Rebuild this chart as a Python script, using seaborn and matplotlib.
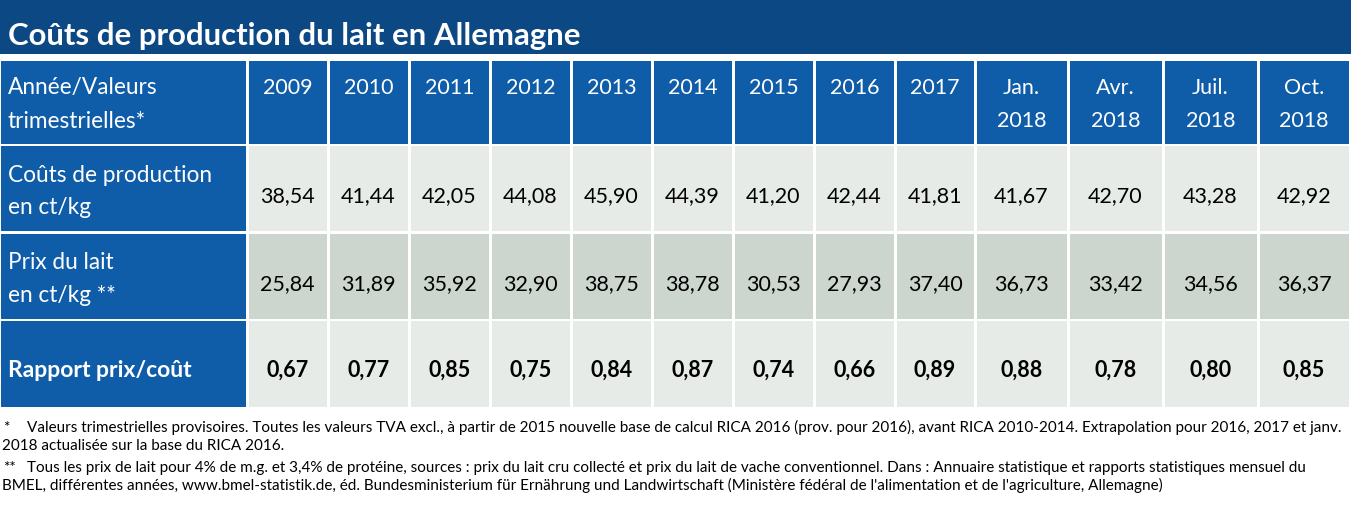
import numpy as np
import pandas as pd
import seaborn as sns
import matplotlib.pyplot as plt
from matplotlib.patches import Rectangle

sns.set_theme(style="white")
plt.rcParams['font.family'] = ['Lato', 'DejaVu Sans']

# données du tableau
titre = "Coûts de production du lait en Allemagne"
colonnes = ["2009", "2010", "2011", "2012", "2013", "2014", "2015", "2016", "2017",
            "Jan.\n2018", "Avr.\n2018", "Juil.\n2018", "Oct.\n2018"]
couts = [38.54, 41.44, 42.05, 44.08, 45.90, 44.39, 41.20, 42.44, 41.81, 41.67, 42.70, 43.28, 42.92]
prix = [25.84, 31.89, 35.92, 32.90, 38.75, 38.78, 30.53, 27.93, 37.40, 36.73, 33.42, 34.56, 36.37]
rapport = [0.67, 0.77, 0.85, 0.75, 0.84, 0.87, 0.74, 0.66, 0.89, 0.88, 0.78, 0.80, 0.85]
notes = [
    ("*", "Valeurs trimestrielles provisoires. Toutes les valeurs TVA excl., à partir de 2015 nouvelle base de calcul RICA 2016 (prov. pour 2016), avant RICA 2010-2014. Extrapolation pour 2016, 2017 et janv.",
     "2018 actualisée sur la base du RICA 2016."),
    ("**", "Tous les prix de lait pour 4% de m.g. et 3,4% de protéine, sources : prix du lait cru collecté et prix du lait de vache conventionnel. Dans : Annuaire statistique et rapports statistiques mensuel du",
     "BMEL, différentes années, www.bmel-statistik.de, éd. Bundesministerium für Ernährung und Landwirtschaft (Ministère fédéral de l'alimentation et de l'agriculture, Allemagne)"),
]

df = pd.DataFrame({"couts": couts, "prix": prix, "rapport": rapport}, index=colonnes)

# mise en page (pixels)
bords_x = [1, 247, 328, 409, 490, 571, 652, 733, 814, 895, 975, 1068, 1163, 1258, 1350]
bords_y = [(62, 145), (147, 232), (235, 320), (322, 408)]
bleu_fonce = "#0c4883"
bleu = "#0f5da8"
gris = ["#e7ebe7", "#ccd5ce", "#e7ebe7"]
fs_lib = 16.3
fs_val = 15.5
fs_note = 11

fig = plt.figure(figsize=(13.51, 5.10), dpi=100)
ax = fig.add_axes([0, 0, 1, 1])
ax.set_xlim(0, 1351)
ax.set_ylim(510, 0)
ax.axis("off")

# bandeau titre
ax.add_patch(Rectangle((0, 1), 1351, 54, color=bleu_fonce, lw=0))
ax.text(8, 45, titre, color="white", fontsize=22.4, fontweight="bold", va="baseline")

g = 1.5
for r, (y0, y1) in enumerate(bords_y):
    for c in range(len(bords_x) - 1):
        x0, x1 = bords_x[c], bords_x[c + 1]
        couleur = bleu if (r == 0 or c == 0) else gris[r - 1]
        ax.add_patch(Rectangle((x0 + (0 if c == 0 else g), y0), x1 - x0 - (g if c == 0 else 2 * g),
                               y1 - y0, color=couleur, lw=0))

# libellés de ligne
ax.text(8, 94, "Année/Valeurs", color="white", fontsize=fs_lib, va="baseline")
ax.text(8, 128, "trimestrielles*", color="white", fontsize=fs_lib, va="baseline")
ax.text(8, 182, "Coûts de production", color="white", fontsize=fs_lib, va="baseline")
ax.text(8, 214, "en ct/kg", color="white", fontsize=fs_lib, va="baseline")
ax.text(8, 269, "Prix du lait", color="white", fontsize=fs_lib, va="baseline")
ax.text(8, 302, "en ct/kg **", color="white", fontsize=fs_lib, va="baseline")
ax.text(8, 377, "Rapport prix/coût", color="white", fontsize=16.5, fontweight="bold", va="baseline")

def fmt(v):
    return f"{v:.2f}".replace(".", ",")

for c, nom in enumerate(df.index):
    xc = (bords_x[c + 1] + bords_x[c + 2]) / 2
    for k, l in enumerate(nom.split("\n")):
        ax.text(xc, 94 + 33 * k, l, color="white", fontsize=fs_val, ha="center", va="baseline")
    ax.text(xc, 202, fmt(df["couts"].iloc[c]), color="black", fontsize=fs_val, ha="center", va="baseline")
    ax.text(xc, 290, fmt(df["prix"].iloc[c]), color="black", fontsize=fs_val, ha="center", va="baseline")
    ax.text(xc, 377, fmt(df["rapport"].iloc[c]), color="black", fontsize=fs_val, fontweight="bold",
            ha="center", va="baseline")

# notes
ys = [(432, 450), (472, 490)]
for (mark, l1, l2), (ya, yb) in zip(notes, ys):
    ax.text(3, ya, mark, color="black", fontsize=fs_note, va="baseline")
    ax.text(27, ya, l1, color="black", fontsize=fs_note, va="baseline")
    ax.text(2, yb, l2, color="black", fontsize=fs_note, va="baseline")

fig.savefig("out.png", dpi=100)
